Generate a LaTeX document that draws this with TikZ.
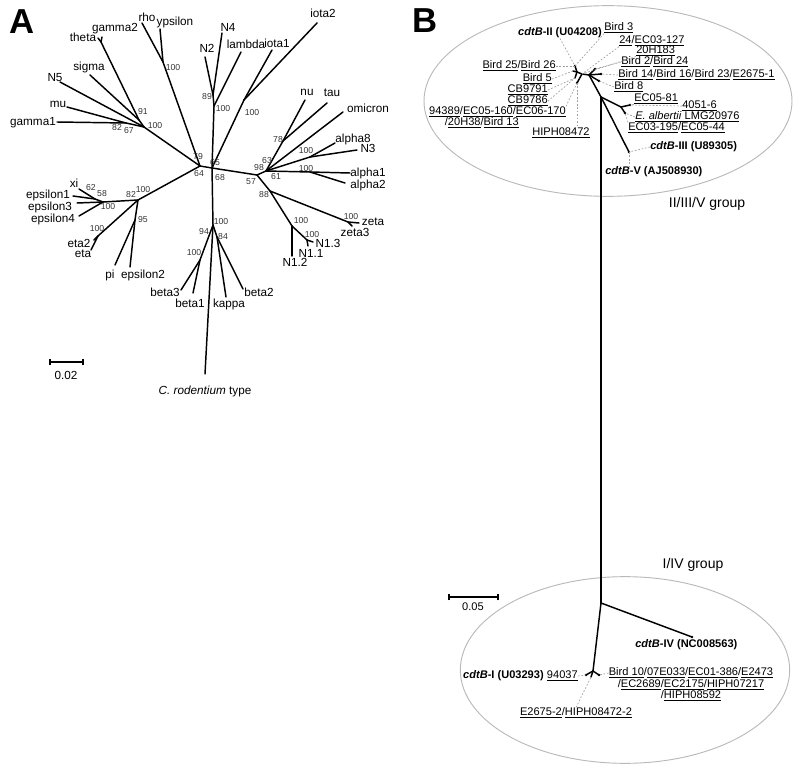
\documentclass[tikz,border=0pt]{standalone}
\usepackage{fontspec}
\setmainfont{Liberation Sans}
\usetikzlibrary{positioning}
\newcommand{\strn}[1]{\underline{#1}}
\newcommand{\cdt}[1]{\textbf{\textit{cdtB}-#1}}
\tikzset{
  branch/.style={line width=1.1pt,line cap=round,line join=round},
  tiplbl/.style={font=\fontsize{8.8}{10}\selectfont,inner sep=0pt},
  boot/.style={font=\fontsize{6.5}{7}\selectfont,text=black!80,inner sep=0pt},
  strain/.style={font=\fontsize{8.3}{9}\selectfont,inner sep=0pt},
  grplbl/.style={font=\fontsize{10.5}{12}\selectfont,inner sep=0pt},
  panel/.style={font=\fontsize{26}{26}\selectfont\bfseries,inner sep=0pt},
  leader/.style={draw=gray!75,line width=0.5pt,dash pattern=on 1.3pt off 1.3pt},
  grpring/.style={draw=gray!55,line width=0.7pt},
  tipdot/.style={circle,fill=black,inner sep=0pt,minimum size=2.2pt},
  scalebar/.style={line width=0.8pt}
}

\begin{document}
\begin{tikzpicture}[x=0.75pt,y=-0.75pt]
  \useasboundingbox (0,0) rectangle (800,770);

  % Panel letters
  \node[panel] (pA) at (22,22) {A};
  \node[panel] (pB) at (425,21) {B};

  % Panel A: tree points
  \foreach \n/\x/\y in {
    C1/200/166, C2/212/168, U1/144/127, U2/139/120, U3/126/123,
    GT/101/42, tTheta/98/38, tGamma2/102/37, tSigma/90/75, tN5/60/82,
    tMu/67/107, tGamma1/57/122, RY/163/62, tRho/142/23, tYps/160/29,
    NL/214/106, NN/213/95, tN2/205/57, tN4/222/33, tLambda/241/52,
    IO/244/100, tIota1/272/50, tIota2/317/23,
    D/257/175, E/266/171, NT/283/141, tNu/305/100, tTau/327/103,
    tOmicron/343/112, AN/310/157, tAlpha8/335/143, tN3/357/150,
    AA/310/172, tAlpha1/350/173, tAlpha2/345/183,
    Z/270/191, ZZ/348/222, tZeta/359/223, tZeta3/352/226,
    NA/292/226, tN12/292/256, NB/307/240, tN13/313/242, tN11/308/246,
    B0/213/225, tCrod/205/374, BB/200/260, tBeta3/181/290, tBeta1/193/293,
    KB/217/237, tKappa/226/297, tBeta2/243/289,
    L0/138/200, XE/103/202, XI/95/199, tXi/79/189, tEps1/73/196,
    tEps3/77/203, tEps4/79/216, ET/98/236, tEta2/94/240, tEta/91/250,
    PE/135/220, tPi/115/265, tEps2/130/267%
  }{
    \coordinate (\n) at (\x,\y);
  }

  % Panel A: branches
  \foreach \a/\b in {
    C1/C2, C1/U1, C1/RY, C1/L0,
    U1/U2, U1/U3, U1/tN5, U2/tSigma, U2/GT, GT/tTheta, GT/tGamma2,
    U3/tMu, U3/tGamma1, RY/tRho, RY/tYps,
    C2/NL, NL/NN, NN/tN2, NN/tN4, NL/tLambda,
    C2/IO, IO/tIota1, IO/tIota2,
    C2/D, D/E, E/NT, NT/tNu, NT/tTau, E/tOmicron,
    E/AN, AN/tAlpha8, AN/tN3, E/AA, AA/tAlpha1, AA/tAlpha2,
    D/Z, Z/ZZ, ZZ/tZeta, ZZ/tZeta3, Z/NA, NA/tN12, NA/NB, NB/tN13, NB/tN11,
    C2/B0, B0/tCrod, B0/BB, BB/tBeta3, BB/tBeta1, B0/KB, KB/tKappa, KB/tBeta2,
    L0/XE, XE/XI, XI/tXi, XI/tEps1, XE/tEps3, XE/tEps4,
    L0/ET, ET/tEta2, ET/tEta, L0/PE, PE/tPi, PE/tEps2%
  }{
    \draw[branch] (\a) -- (\b);
  }

  % Panel A: tip labels
  \foreach \n/\x/\y/\t in {
    theta/83/37/theta, gamma2/115/29/gamma2, rho/147/17/rho, ypsilon/175/22/ypsilon,
    sigma/89/67/sigma, n5/55/78/N5, mu/58/104/mu, gamma1/33/123/gamma1,
    n2/207/48/N2, n4/228/27/N4, lambda/246/44/lambda, iota1/277/43/iota1,
    iota2/323/13/iota2, nu/307/92/nu, tau/332/93/tau, omicron/368/108/omicron,
    alpha8/353/139/alpha8, n3/368/148/N3, alpha1/368/173/alpha1, alpha2/368/185/alpha2,
    zeta/373/222/zeta, zeta3/355/232/zeta3, n13/328/243/N1.3, n11/311/253/N1.1,
    n12/295/262/N1.2, beta3/165/292/beta3, beta1/190/303/beta1, kappa/229/304/kappa,
    beta2/259/292/beta2, crod/205/391/{\textit{C. rodentium} type},
    xi/74/183/xi, eps1/48/195/epsilon1, eps3/50/207/epsilon3, eps4/53/219/epsilon4,
    eta2/79/243/eta2, eta/83/254/eta, pi/110/275/pi, eps2/143/275/epsilon2%
  }{
    \node[tiplbl] (l-\n) at (\x,\y) {\t};
  }

  % Panel A: bootstrap values
  \foreach \x/\y/\v [count=\i] in {
    143/112/91, 155/126/100, 117/128/82, 129/131/67, 173/68/100,
    198/157/79, 199/174/64, 215/163/65, 207/97/89, 223/109/100,
    252/113/100, 220/178/68, 251/182/57, 259/168/98, 267/161/63,
    276/177/61, 278/140/78, 306/151/100, 306/169/100, 264/195/88,
    351/217/100, 301/221/100, 312/235/100, 221/222/100, 204/232/94,
    223/237/84, 194/253/100, 143/190/100, 131/195/82, 91/188/62,
    102/194/58, 108/207/100, 97/229/100, 143/220/95%
  }{
    \node[boot] (bs\i) at (\x,\y) {\v};
  }

  % Panel A: scale
  \coordinate (sa1) at (50,362);
  \coordinate (sa2) at (83,362);
  \draw[scalebar] (sa1) -- (sa2);
  \draw[scalebar] ([yshift=-2.5pt]sa1) -- ([yshift=2.5pt]sa1);
  \draw[scalebar] ([yshift=-2.5pt]sa2) -- ([yshift=2.5pt]sa2);
  \node[tiplbl] (sa-lbl) at (66,375) {0.02};

  % Panel B: group rings
  \draw[grpring] (608,101) ellipse [x radius=138pt, y radius=71.5pt];
  \draw[grpring] (625,670) ellipse [x radius=123.5pt, y radius=70pt];
  \node[grplbl] (g-top) at (707,204) {II/III/V group};
  \node[grplbl] (g-bot) at (693,565) {I/IV group};

  % Panel B: tree points
  \foreach \n/\x/\y in {
    T0/601/97, TA/589/75, TB/582/74, TC/577/72,
    tC1/575/66, tC2/573/71, tC4/575/78, tC3/577/83,
    t2/595/69, t14/601/74, t8/599/81, III/629/152,
    EC1/621/107, e81/630/105, EC2/625/113,
    R/601/603, IV/692/637, BF/593/671, b94/586/675, b10/599/675, b26/591/677%
  }{
    \coordinate (\n) at (\x,\y);
  }

  % Panel B: branches
  \foreach \a/\b in {
    TA/T0, T0/III, T0/R, TA/TB, TB/TC, TC/tC1, TC/tC2, TC/tC4, TB/tC3,
    TA/t2, TA/t14, TA/t8, T0/EC1, EC1/e81, EC1/EC2,
    R/IV, R/BF, BF/b94, BF/b10, BF/b26%
  }{
    \draw[branch] (\a) -- (\b);
  }
  \foreach \n in {tC1,tC3,t2,t14,t8,III,e81,EC2,IV,b94,b10}{
    \node[tipdot] (d-\n) at (\n) {};
  }

  % Panel B: strain labels
  \node[strain] (l-c2) at (560,33) {\cdt{II (U04208)}};
  \foreach \n/\x/\y/\t in {
    b25/556/66/{\strn{Bird 25}/\strn{Bird 26}},
    b5/552/79/{\strn{Bird 5}},
    cb91/548/90/{\strn{CB9791}},
    cb86/548/101/{\strn{CB9786}},
    s943/566/112/{\strn{94389}/\strn{EC05-160}/\strn{EC06-170}},
    s20h/519/123/{/\strn{20H38}/\strn{Bird 13}},
    c1/544/676/{\cdt{I (U03293)}},
    s940/578/676/{\strn{94037}}%
  }{
    \node[strain,anchor=east] (l-\n) at (\x,\y) {\t};
  }
  \node[strain] (l-hiph) at (561,133) {\strn{HIPH08472}};
  \foreach \n/\x/\y/\t in {
    b3/604/28/{\strn{Bird 3}},
    b24/619/41/{\strn{24}/\strn{EC03-127}},
    h183/636/51/{\strn{20H183}},
    b2/621/62/{\strn{Bird 2}/\strn{Bird 24}},
    b14/618/75/{\strn{Bird 14}/\strn{Bird 16}/\strn{Bird 23}/\strn{E2675-1}},
    b8/614/87/{\strn{Bird 8}},
    e81/634/99/{\strn{EC05-81}},
    s4051/682/106/{\strn{4051-6}},
    ealb/635/117/{\strn{\textit{E. albertii} LMG20976}},
    ec03/628/128/{\strn{EC03-195}/\strn{EC05-44}},
    c3/650/147/{\cdt{III (U89305)}},
    c5/605/172/{\cdt{V (AJ508930)}},
    c4/635/645/{\cdt{IV (NC008563)}}%
  }{
    \node[strain,anchor=west] (l-\n) at (\x,\y) {\t};
  }
  \node[strain] (l-b10a) at (691,673) {\strn{Bird 10}/\strn{07E033}/\strn{EC01-386}/\strn{E2473}};
  \node[strain] (l-b10b) at (691,685) {/\strn{EC2689}/\strn{EC2175}/\strn{HIPH07217}};
  \node[strain] (l-b10c) at (691,696) {/\strn{HIPH08592}};
  \node[strain] (l-e26) at (576,713) {\strn{E2675-2}/\strn{HIPH08472-2}};

  % Panel B: leaders
  \draw[leader] (l-c2.south) -- (tC1);
  \draw[leader] (l-b25.east) -- (tC1);
  \draw[leader] (l-b5.east) -- (tC2);
  \draw[leader] (l-cb91.east) -- (tC4);
  \draw[leader] (l-cb86.east) -- (tC4);
  \draw[leader] (l-s943.north east) -- (tC3);
  \draw[leader] (tC3) -- (tC3 |- l-hiph.north);
  \draw[leader] (l-b3.south west) -- (tC1);
  \draw[leader] (l-b24.south west) -- (TB);
  \draw[leader] (l-h183.south west) -- (TB);
  \draw[leader] (l-b2.west) -- (t2);
  \draw[leader] (l-b14.west) -- (t14);
  \draw[leader] (l-b8.west) -- (t8);
  \draw[leader] (l-e81.south west) -- (e81);
  \draw[leader] (l-s4051.west) -- (e81);
  \draw[leader] (l-ealb.west) -- (EC2);
  \draw[leader] (l-ec03.north west) -- (EC2);
  \draw[leader] (l-c3.west) -- (III);
  \draw[leader] (III) -- (III |- l-c5.north);
  \draw[leader] (l-s940.east) -- (b94);
  \draw[leader] (l-b10a.west) -- (b10);
  \draw[leader] (l-e26.north) -- (b26);

  % Panel B: scale
  \coordinate (sb1) at (449,597);
  \coordinate (sb2) at (498,597);
  \draw[scalebar] (sb1) -- (sb2);
  \draw[scalebar] ([yshift=-2.5pt]sb1) -- ([yshift=2.5pt]sb1);
  \draw[scalebar] ([yshift=-2.5pt]sb2) -- ([yshift=2.5pt]sb2);
  \node[strain] (sb-lbl) at (473,607) {0.05};

\end{tikzpicture}
\end{document}
